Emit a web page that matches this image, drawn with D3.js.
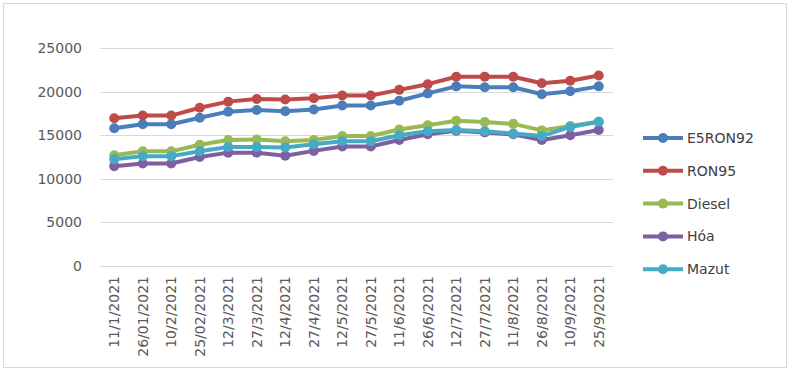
<html>
<head>
<script src="https://d3js.org/d3.v7.min.js"></script>
<style>
    body { margin: 0; background: #fff; }
    text { font-family: "DejaVu Sans", sans-serif; }
</style>
</head>
<body>
<script>
var dates = ["11/1/2021", "26/01/2021", "10/2/2021", "25/02/2021", "12/3/2021", "27/3/2021",
    "12/4/2021", "27/4/2021", "12/5/2021", "27/5/2021", "11/6/2021", "26/6/2021",
    "12/7/2021", "27/7/2021", "11/8/2021", "26/8/2021", "10/9/2021", "25/9/2021"];

var e5ron92 = [15800, 16250, 16250, 17000, 17700, 17900, 17750, 17950, 18400, 18400, 18950, 19800, 20600, 20500, 20500, 19700, 20050, 20600];
var ron95   = [16950, 17250, 17250, 18150, 18850, 19150, 19100, 19250, 19550, 19550, 20200, 20850, 21700, 21700, 21700, 20950, 21250, 21850];
var diesel  = [12700, 13150, 13150, 13900, 14450, 14500, 14300, 14450, 14900, 14900, 15650, 16150, 16650, 16500, 16300, 15550, 16050, 16550];
var hoa     = [11450, 11750, 11750, 12500, 13000, 13000, 12650, 13200, 13700, 13700, 14450, 15100, 15500, 15300, 15100, 14450, 15000, 15600];
var mazut   = [12250, 12600, 12600, 13150, 13650, 13650, 13600, 13950, 14300, 14300, 15000, 15450, 15600, 15450, 15200, 14900, 15950, 16550];

var seriesNames = ["E5RON92", "RON95", "Diesel", "Hóa", "Mazut"];
var seriesData = [e5ron92, ron95, diesel, hoa, mazut];
var colors = ["#4a7ebb", "#be4b48", "#98b954", "#7d60a0", "#46aac5"];
var yTicks = [0, 5000, 10000, 15000, 20000, 25000];

var W = 793, H = 370;
var margin = {top: 48, left: 100, right: 180, bottom: 104};

var svg = d3.select("body").append("svg")
    .attr("width", W)
    .attr("height", H);

svg.append("rect")
    .attr("x", 3.5).attr("y", 3.5)
    .attr("width", 783).attr("height", 364)
    .attr("fill", "#fff")
    .attr("stroke", "#d9d9d9");

var x = d3.scaleBand()
    .domain(dates)
    .range([margin.left, W - margin.right]);

var y = d3.scaleLinear()
    .domain([0, 25000])
    .range([H - margin.bottom, margin.top]);

// gridlines
svg.append("g")
    .selectAll("line")
    .data(yTicks)
    .enter().append("line")
    .attr("x1", margin.left)
    .attr("x2", W - margin.right)
    .attr("y1", function (d) { return Math.round(y(d)) + 0.5; })
    .attr("y2", function (d) { return Math.round(y(d)) + 0.5; })
    .attr("stroke", "#d9d9d9")
    .attr("stroke-width", 1.2);

// y labels
svg.append("g")
    .selectAll("text")
    .data(yTicks)
    .enter().append("text")
    .attr("x", margin.left - 18)
    .attr("y", function (d) { return y(d); })
    .attr("dy", "0.35em")
    .attr("text-anchor", "end")
    .attr("font-size", 14)
    .attr("fill", "#595959")
    .text(function (d) { return d; });

// x labels
svg.append("g")
    .selectAll("text")
    .data(dates)
    .enter().append("text")
    .attr("transform", function (d) {
        return "translate(" + (x(d) + x.bandwidth() / 2) + "," + (y(0) + 10) + ") rotate(-90)";
    })
    .attr("dy", "0.35em")
    .attr("text-anchor", "end")
    .attr("font-size", 14)
    .attr("fill", "#595959")
    .text(function (d) { return d; });

var line = d3.line()
    .x(function (d, i) { return x(dates[i]) + x.bandwidth() / 2; })
    .y(function (d) { return y(d); });

var series = svg.append("g")
    .selectAll("g")
    .data(seriesData)
    .enter().append("g");

series.append("path")
    .attr("d", line)
    .attr("fill", "none")
    .attr("stroke", function (d, i) { return colors[i]; })
    .attr("stroke-width", 4)
    .attr("stroke-linejoin", "round");

series.each(function (vals, i) {
    d3.select(this).selectAll("circle")
        .data(vals)
        .enter().append("circle")
        .attr("cx", function (d, j) { return x(dates[j]) + x.bandwidth() / 2; })
        .attr("cy", function (d) { return y(d); })
        .attr("r", 5)
        .attr("fill", colors[i]);
});

// legend
var legend = svg.append("g")
    .selectAll("g")
    .data(seriesNames)
    .enter().append("g")
    .attr("transform", function (d, i) { return "translate(643," + (138 + i * 32.8) + ")"; });

legend.append("line")
    .attr("x1", 0).attr("x2", 40)
    .attr("stroke", function (d, i) { return colors[i]; })
    .attr("stroke-width", 4);

legend.append("circle")
    .attr("cx", 20)
    .attr("r", 5)
    .attr("fill", function (d, i) { return colors[i]; });

legend.append("text")
    .attr("x", 44)
    .attr("dy", "0.35em")
    .attr("font-size", 14)
    .attr("fill", "#404040")
    .text(function (d) { return d; });
</script>
</body>
</html>
